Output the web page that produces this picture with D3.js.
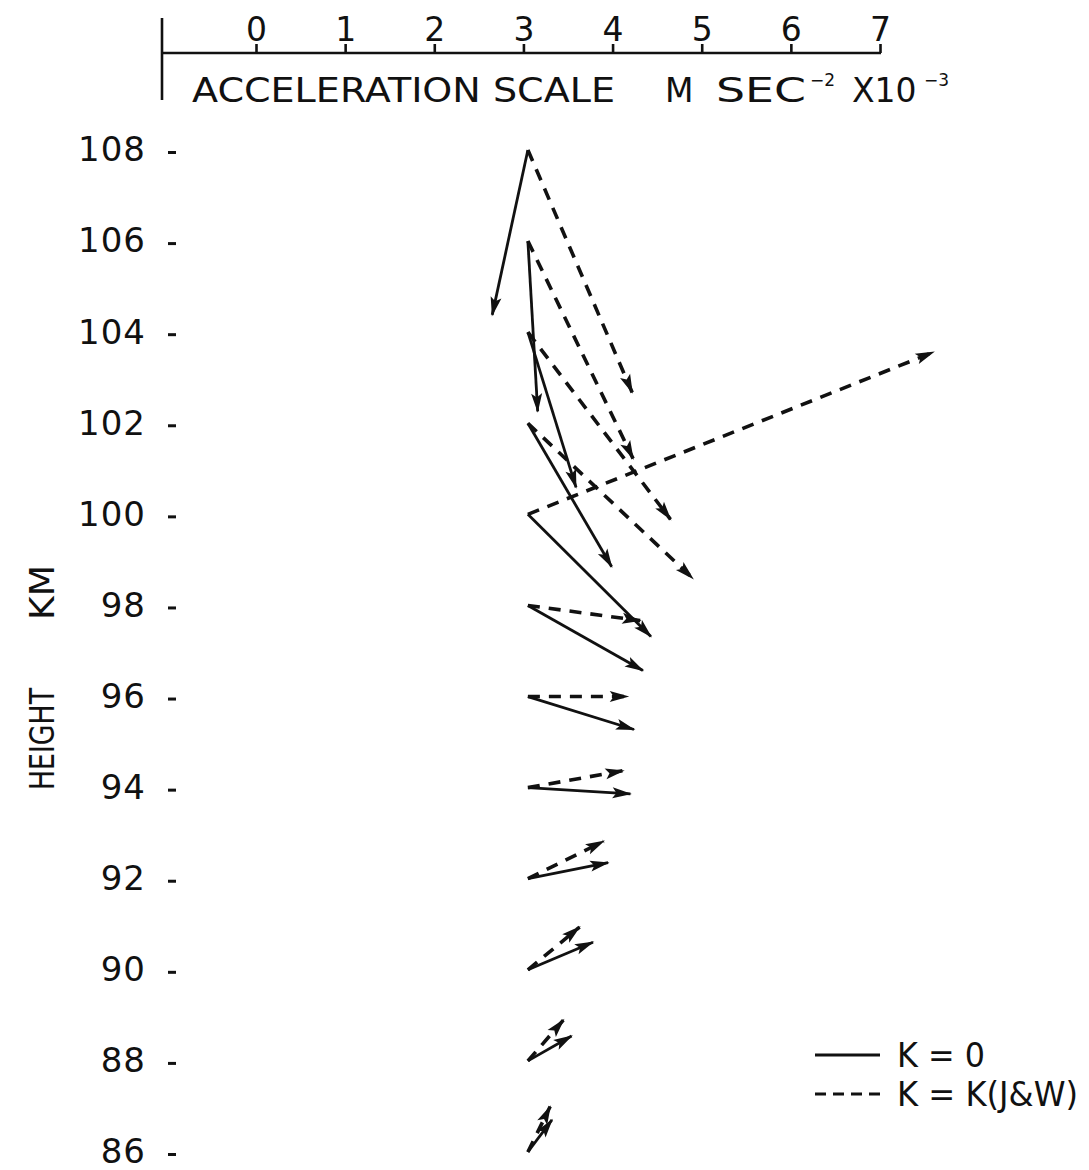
<!DOCTYPE html>
<html>
<head>
<meta charset="utf-8">
<script src="https://cdn.jsdelivr.net/npm/d3@7"></script>
<style>
  html, body { margin: 0; padding: 0; background: #fff; }
  svg { display: block; }
  text { font-family: "DejaVu Sans", sans-serif; fill: #111; }
</style>
</head>
<body>
<script>
// ---------- data (acceleration in units of 1e-3 m s^-2) ----------
const heights     = [108, 106, 104, 102, 100, 98, 96, 94, 92, 90, 88, 86];
// K = 0 (solid): eastward / northward components
const solidU  = [-0.40, 0.11, 0.54, 0.94, 1.38, 1.29, 1.19, 1.15, 0.90, 0.73, 0.49, 0.27];
const solidV  = [-1.85, -1.91, -1.74, -1.61, -1.37, -0.73, -0.37, -0.07, 0.18, 0.31, 0.28, 0.36];
// K = K(J&W) (dashed)
const dashedU = [1.17, 1.18, 1.60, 1.85, 4.55, 1.26, 1.12, 1.07, 0.85, 0.58, 0.40, 0.25];
const dashedV = [-2.72, -2.44, -2.10, -1.74, 1.82, -0.17, 0.00, 0.19, 0.42, 0.48, 0.46, 0.51];
const scaleTicks  = [0, 1, 2, 3, 4, 5, 6, 7];
const heightTicks = [108, 106, 104, 102, 100, 98, 96, 94, 92, 90, 88, 86];
const originAccel = 3.05; // column of vector tails on the acceleration scale

const W = 1089, H = 1170;
const svg = d3.select("body").append("svg").attr("width", W).attr("height", H);

// scales
const x = d3.scaleLinear().domain([0, 7]).range([256, 880]);
const y = d3.scaleLinear().domain([86, 108]).range([1152, 150]);
const unit = x(1) - x(0); // pixels per acceleration unit (both components)

// ---------- top acceleration scale ----------
const scaleY = 53;
svg.append("line").attr("x1", 162).attr("x2", x(7) + 1).attr("y1", scaleY).attr("y2", scaleY)
  .attr("stroke", "#111").attr("stroke-width", 2.6);
svg.append("line").attr("x1", 162).attr("x2", 162).attr("y1", 18).attr("y2", 100)
  .attr("stroke", "#111").attr("stroke-width", 2.6);
const topAxis = svg.append("g").attr("transform", `translate(0,${scaleY})`)
  .call(d3.axisTop(x).tickValues(scaleTicks).tickFormat(d3.format("d")).tickSize(9).tickPadding(3));
topAxis.select(".domain").remove();
topAxis.selectAll(".tick line").attr("stroke", "#111").attr("stroke-width", 2.6);
topAxis.selectAll(".tick text").style("font-size", "33px").style("font-family", "DejaVu Sans, sans-serif").attr("fill", "#111");

svg.append("text").attr("x", 192).attr("y", 102).style("font-size", "33px")
  .attr("textLength", 423).attr("lengthAdjust", "spacingAndGlyphs")
  .text("ACCELERATION  SCALE");
svg.append("text").attr("x", 665).attr("y", 102).style("font-size", "33px").text("M");
svg.append("text").attr("x", 716).attr("y", 102).style("font-size", "33px")
  .attr("textLength", 90).attr("lengthAdjust", "spacingAndGlyphs").text("SEC");
svg.append("text").attr("x", 810).attr("y", 86).style("font-size", "17px").text("−2");
svg.append("text").attr("x", 852).attr("y", 102).style("font-size", "33px").text("X10");
svg.append("text").attr("x", 924).attr("y", 86).style("font-size", "17px").text("−3");

// ---------- height axis ----------
const leftAxis = svg.append("g").attr("transform", "translate(178,0)")
  .call(d3.axisLeft(y).tickValues(heightTicks).tickFormat(d3.format("d")).tickSize(8).tickPadding(24));
leftAxis.select(".domain").remove();
leftAxis.selectAll(".tick line").attr("stroke", "#111").attr("stroke-width", 3)
  .attr("transform", "translate(-2,2)");
leftAxis.selectAll(".tick text").style("font-size", "34px").style("letter-spacing", "1px")
  .style("font-family", "DejaVu Sans, sans-serif").attr("fill", "#111");

// axis title
svg.append("text").attr("transform", "translate(54,790) rotate(-90)")
  .style("font-size", "33px").attr("textLength", 102).attr("lengthAdjust", "spacingAndGlyphs")
  .text("HEIGHT");
svg.append("text").attr("transform", "translate(54,620) rotate(-90)")
  .style("font-size", "33px").attr("textLength", 55).attr("lengthAdjust", "spacingAndGlyphs")
  .text("KM");

// ---------- arrow marker ----------
const defs = svg.append("defs");
defs.append("marker").attr("id", "head")
  .attr("markerUnits", "userSpaceOnUse")
  .attr("viewBox", "-20 -7 22 14")
  .attr("refX", 0).attr("refY", 0)
  .attr("markerWidth", 22).attr("markerHeight", 14)
  .attr("orient", "auto")
  .append("path").attr("d", "M1.5,0 L-18,-5.5 L-14,0 L-18,5.5 Z").attr("fill", "#111");

// ---------- vectors ----------
const x0 = x(originAccel);
function vec(u, v) { return [u * unit, -v * unit]; }

const solidData = heights.map((h, i) => ({ h, u: solidU[i], v: solidV[i] }));
const dashedData = heights.map((h, i) => ({ h, u: dashedU[i], v: dashedV[i] }));

function drawSet(data, dashed) {
  svg.append("g").selectAll("line").data(data).join("line")
    .attr("x1", x0)
    .attr("y1", d => y(d.h))
    .attr("x2", d => x0 + vec(d.u, d.v)[0])
    .attr("y2", d => y(d.h) + vec(d.u, d.v)[1])
    .attr("stroke", "#111")
    .attr("stroke-width", dashed ? 3.6 : 2.8)
    .attr("stroke-dasharray", dashed ? "12,9" : null)
    .attr("stroke-linecap", "butt")
    .attr("marker-end", "url(#head)");
}
drawSet(solidData, false);
drawSet(dashedData, true);

// ---------- legend ----------
svg.append("line").attr("x1", 815).attr("x2", 880).attr("y1", 1055).attr("y2", 1055)
  .attr("stroke", "#111").attr("stroke-width", 2.8);
svg.append("line").attr("x1", 815).attr("x2", 882).attr("y1", 1094).attr("y2", 1094)
  .attr("stroke", "#111").attr("stroke-width", 3.2).attr("stroke-dasharray", "11,7");
svg.append("text").attr("x", 897).attr("y", 1067).style("font-size", "33px")
  .attr("textLength", 88).attr("lengthAdjust", "spacingAndGlyphs").text("K = 0");
svg.append("text").attr("x", 897).attr("y", 1106).style("font-size", "33px")
  .attr("textLength", 181).attr("lengthAdjust", "spacingAndGlyphs").text("K = K(J&W)");
</script>
</body>
</html>
